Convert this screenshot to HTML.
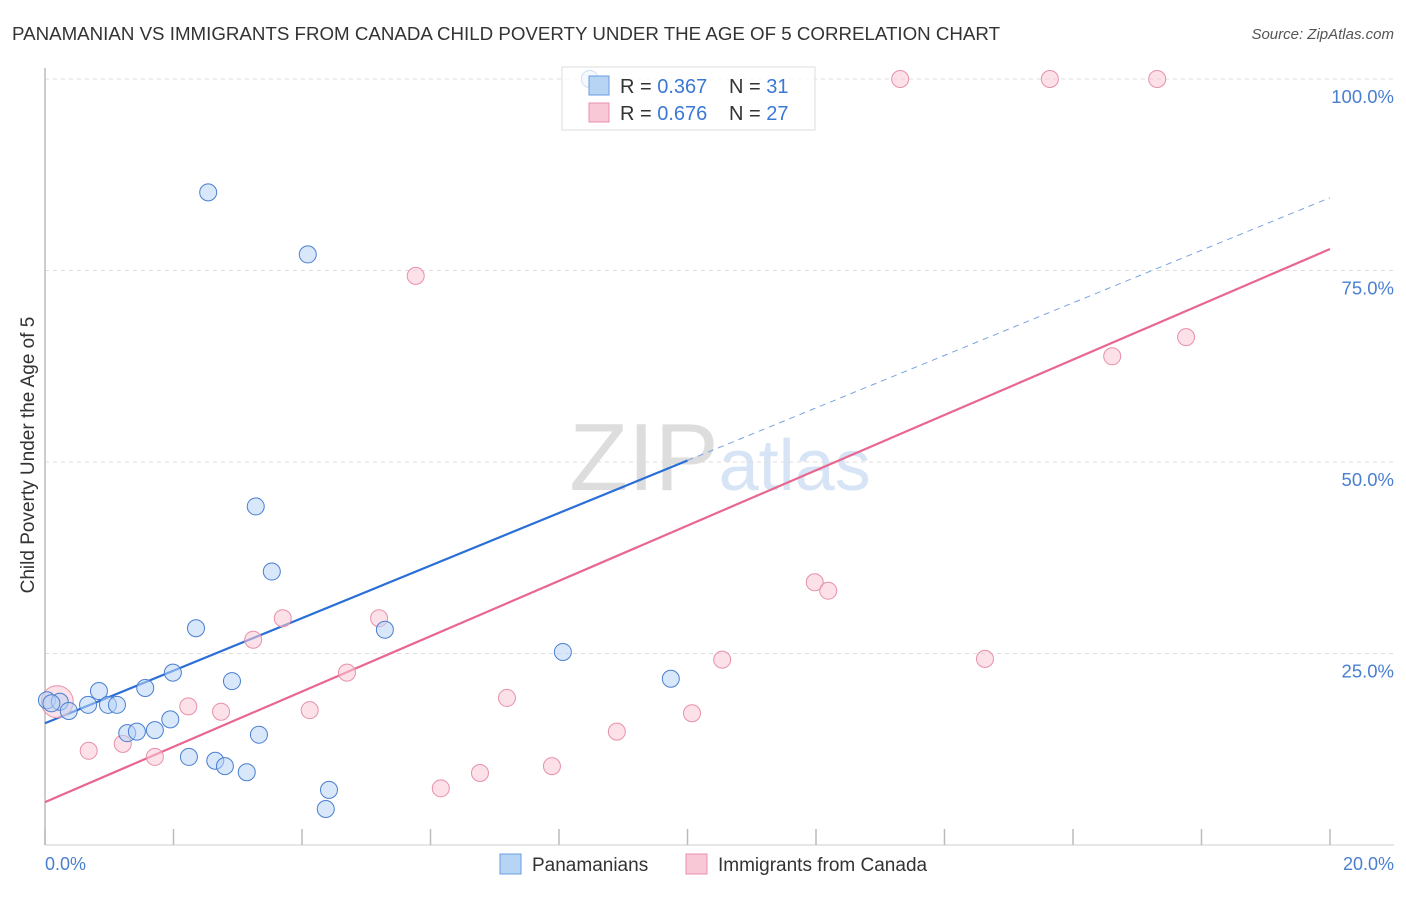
<!DOCTYPE html>
<html><head><meta charset="utf-8"><style>
body{margin:0;background:#fff;font-family:"Liberation Sans",sans-serif}
svg text{font-family:"Liberation Sans",sans-serif}
</style></head><body>
<svg width="1406" height="892" xmlns="http://www.w3.org/2000/svg">
<text x="12" y="40" font-size="18.7" fill="#333" textLength="988" lengthAdjust="spacingAndGlyphs">PANAMANIAN VS IMMIGRANTS FROM CANADA CHILD POVERTY UNDER THE AGE OF 5 CORRELATION CHART</text>
<text x="1394" y="39" font-size="15" fill="#555" font-style="italic" text-anchor="end">Source: ZipAtlas.com</text>
<text x="720" y="490" font-size="96" fill="#ddd" text-anchor="middle" font-family="Liberation Serif"><tspan fill="#ddd">ZIP</tspan><tspan fill="#d6e4f5" font-family="Liberation Sans" font-size="72">atlas</tspan></text>
<g id="grid"></g>
<g id="axes"></g>
<g id="lines"></g>
<g id="pts"></g>
<text x="34" y="455" font-size="19" fill="#333" text-anchor="middle" transform="rotate(-90 34 455)">Child Poverty Under the Age of 5</text>
<text x="45" y="870" font-size="18" fill="#4a7fd0">0.0%</text>
<text x="1394" y="870" font-size="18" fill="#4a7fd0" text-anchor="end">20.0%</text>
<g>
<rect x="562" y="67" width="253" height="63" fill="#fff" fill-opacity="0.75" stroke="#ddd"/>
<rect x="589" y="76" width="20" height="19" fill="#b8d4f5" stroke="#6a9de0"/>
<rect x="589" y="103" width="20" height="19" fill="#f9c8d6" stroke="#e890aa"/>
<text x="620" y="93" font-size="20" fill="#333">R = <tspan fill="#3b78d6">0.367</tspan></text>
<text x="729" y="93" font-size="20" fill="#333">N = <tspan fill="#3b78d6">31</tspan></text>
<text x="620" y="120" font-size="20" fill="#333">R = <tspan fill="#3b78d6">0.676</tspan></text>
<text x="729" y="120" font-size="20" fill="#333">N = <tspan fill="#3b78d6">27</tspan></text>
</g>
<g>
<rect x="500" y="854" width="21" height="20" fill="#b8d4f5" stroke="#6a9de0"/>
<text x="532" y="871" font-size="19" fill="#333">Panamanians</text>
<rect x="686" y="854" width="21" height="20" fill="#f9c8d6" stroke="#e890aa"/>
<text x="718" y="871" font-size="19" fill="#333">Immigrants from Canada</text>
</g>
</svg>
<script>
const yTicks=[25,50,75,100];
const yTickLabels=["25.0%","50.0%","75.0%","100.0%"];
const xTicks=[0,2,4,6,8,10,12,14,16,18,20];
const blueX=[8.48,2.54,4.09,3.28,3.53,2.35,5.29,8.06,9.74,1.99,2.91,1.56,0.84,0.03,0.23,0.37,0.67,0.98,1.12,1.28,1.43,1.71,1.95,2.24,2.65,2.80,3.14,3.33,4.42,4.37,0.1];
const blueY=[100,85.2,77.1,44.2,35.7,28.3,28.1,25.2,21.7,22.5,21.4,20.5,20.1,18.9,18.7,17.5,18.3,18.3,18.3,14.6,14.8,15.0,16.4,11.5,11.0,10.3,9.5,14.4,7.2,4.7,18.5];
const blueBig=[];
const pinkX=[13.31,15.64,17.31,5.77,17.76,16.61,11.98,12.19,3.70,5.20,3.24,4.70,14.63,10.54,2.23,2.74,4.12,7.19,10.07,8.90,1.21,0.68,1.71,7.89,6.77,6.16,0.19];
const pinkY=[100,100,100,74.3,66.3,63.8,34.3,33.2,29.6,29.6,26.8,22.5,24.3,24.2,18.1,17.4,17.6,19.2,17.2,14.8,13.2,12.3,11.5,10.3,9.4,7.4,18.7];
const pinkBig=[26];
const blueTrend=[15.9,84.5];
const pinkTrend=[5.6,77.8];
const NS="http://www.w3.org/2000/svg";
const X=v=>45+v/20*1285, Y=v=>845-v/100*766;
function mk(t,a,p){const e=document.createElementNS(NS,t);for(const k in a)e.setAttribute(k,a[k]);document.getElementById(p).appendChild(e);return e;}
yTicks.forEach((t,i)=>{
 const l=mk('line',{x1:45,x2:1394,y1:Y(t),y2:Y(t),stroke:'#ddd','stroke-dasharray':'4,4'},'grid');
 
 
 const tx=mk('text',{x:1394,y:Y(t)+24,'font-size':18.5,fill:'#4a7fd0','text-anchor':'end'},'grid');
 tx.textContent=yTickLabels[i];
 
 
});
const ya=mk('line',{x1:45,x2:45,y1:68,y2:845,stroke:'#bbb','stroke-width':1.5},'axes');


const xa=mk('line',{x1:45,x2:1394,y1:845,y2:845,stroke:'#ccc'},'axes');


xTicks.forEach(t=>{const l=mk('line',{x1:X(t),x2:X(t),y1:829,y2:845,stroke:'#bbb','stroke-width':1.5},'axes');
 
 });
function pts(xs,ys,big,fill,stroke,name){xs.forEach((x,i)=>{const c=mk('circle',{cx:X(x),cy:Y(ys[i]),r:big.includes(i)?16:8.5,fill:fill,'fill-opacity':0.55,stroke:stroke,'stroke-width':1},'pts');
 
 });}
pts(pinkX,pinkY,pinkBig,'#f9c8d6','#e890aa','point-canada');
pts(blueX,blueY,blueBig,'#b8d4f5','#4a7fd0','point-panamanian');
const bMid=10;const bMidY=blueTrend[0]+(blueTrend[1]-blueTrend[0])*bMid/20;
const b1=mk('line',{x1:X(0),y1:Y(blueTrend[0]),x2:X(bMid),y2:Y(bMidY),stroke:'#2a6fd6','stroke-width':2.2},'lines');


const b2=mk('line',{x1:X(bMid),y1:Y(bMidY),x2:X(20),y2:Y(blueTrend[1]),stroke:'#7aa3e0','stroke-width':1,'stroke-dasharray':'6,5'},'lines');


const p1=mk('line',{x1:X(0),y1:Y(pinkTrend[0]),x2:X(20),y2:Y(pinkTrend[1]),stroke:'#e8668f','stroke-width':2.2},'lines');


</script>
</body></html>
